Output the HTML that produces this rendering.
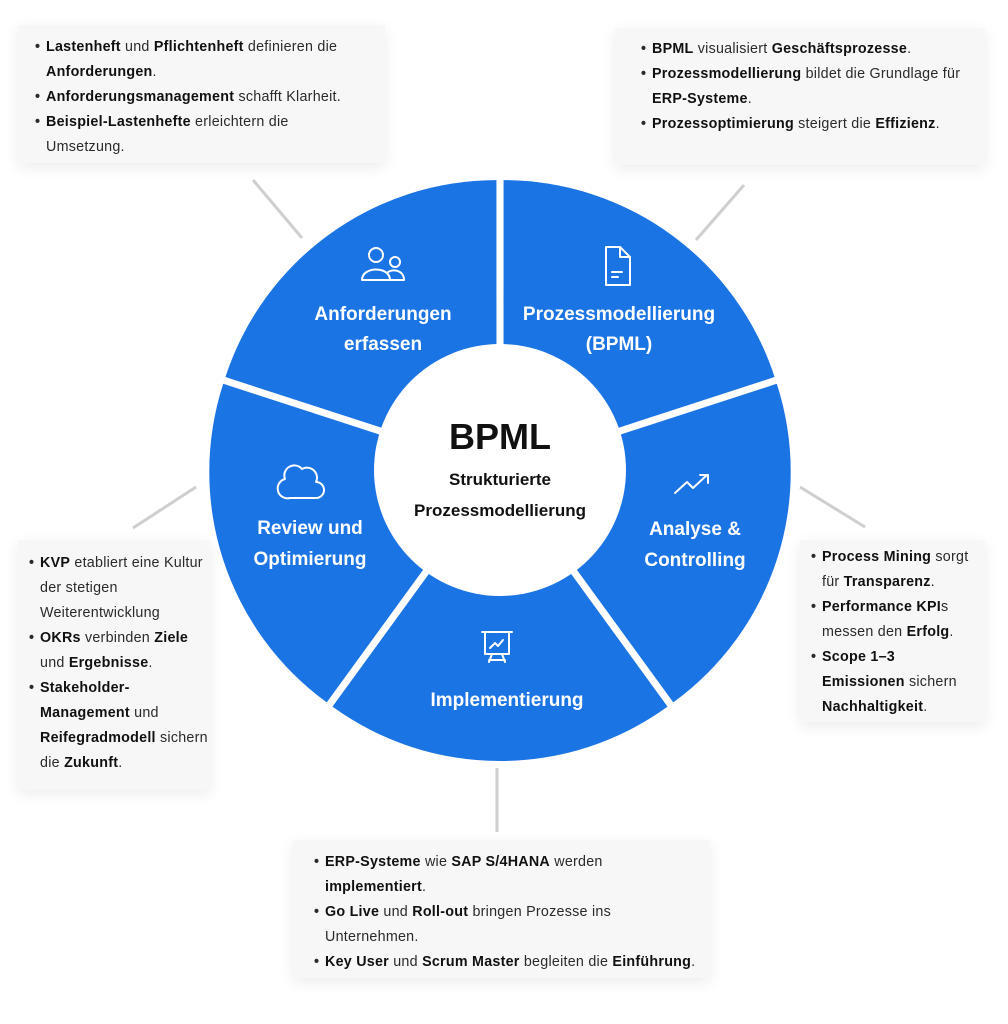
<!DOCTYPE html>
<html><head><meta charset="utf-8"><style>
body{margin:0;background:#fff;width:1008px;height:1024px;position:relative;overflow:hidden;font-family:"Liberation Sans",sans-serif;}
.box{position:absolute;background:#f7f7f7;box-shadow:0 4px 14px rgba(0,0,0,0.08);font-size:14.3px;letter-spacing:0.25px;color:#2a2a2a;line-height:25px;box-sizing:border-box;white-space:nowrap;}
.box ul{margin:0;padding:0;list-style:none;}
.box li{position:relative;padding-left:11px;}
.box li:before{content:"•";position:absolute;left:0;top:0;font-weight:bold;}
b{color:#111;}
svg{position:absolute;left:0;top:0;}
</style></head><body>
<svg width="1008" height="1024" viewBox="0 0 1008 1024">
<g stroke="#cfcfcf" stroke-width="3">
<line x1="253" y1="180" x2="302" y2="238"/>
<line x1="744" y1="185" x2="696" y2="240"/>
<line x1="196" y1="487" x2="133" y2="528"/>
<line x1="800" y1="487" x2="865" y2="527"/>
<line x1="497" y1="768" x2="497" y2="832"/>
</g>
<defs><path id="seg" d="M0,0 L-167.5,-230.6 A285,285 0 0 1 167.5,-230.6 Z" fill="#1b74e4"/></defs>
<g transform="translate(500,470)">
<g transform="rotate(-36) translate(0,-6)"><use href="#seg"/></g>
<g transform="rotate(36) translate(0,-6)"><use href="#seg"/></g>
<g transform="rotate(108) translate(0,-6)"><use href="#seg"/></g>
<g transform="rotate(180) translate(0,-6)"><use href="#seg"/></g>
<g transform="rotate(252) translate(0,-6)"><use href="#seg"/></g>
<circle cx="0" cy="0" r="126" fill="#fff"/>
</g>
<g fill="none" stroke="#fff" stroke-width="2" stroke-linecap="round" stroke-linejoin="round">
<circle cx="376" cy="255" r="7"/><circle cx="395" cy="262" r="5"/>
<path d="M362,280 c0,-14 28,-14 28,0 z"/><path d="M390,280 h14 c0,-10 -12,-12 -17,-7"/>
<path d="M606,247 h14 l10,10 v28 h-24 z"/><path d="M620,247 v10 h10"/><path d="M612,272 h10 M612,277 h6"/>
<path d="M675,493 l12,-11 6,6 14,-13"/><path d="M700,475 h8 v8"/>
<path d="M482,632 h30 M485,632 v22 h24 v-22 M492,654 l-3,8 M502,654 l3,8 M489,660 h16"/><path d="M490,648 l5,-5 3,3 5,-6"/>
<path d="M290,498 h26 a8,8 0 0 0 0,-16 a10,10 0 0 0 -14,-13 a10,10 0 0 0 -17,10 a9,9 0 0 0 5,19 z"/>
</g>
<g fill="#fff" font-family="Liberation Sans, sans-serif" font-weight="bold" font-size="19" text-anchor="middle">
<text x="383" y="320">Anforderungen</text><text x="383" y="350">erfassen</text>
<text x="619" y="320">Prozessmodellierung</text><text x="619" y="350">(BPML)</text>
<text x="695" y="535">Analyse &amp;</text><text x="695" y="566">Controlling</text>
<text x="507" y="706">Implementierung</text>
<text x="310" y="534">Review und</text><text x="310" y="565">Optimierung</text>
</g>
<g fill="#111" font-family="Liberation Sans, sans-serif" font-weight="bold" text-anchor="middle">
<text x="500" y="449" font-size="36">BPML</text>
<text x="500" y="485" font-size="17">Strukturierte</text>
<text x="500" y="516" font-size="17">Prozessmodellierung</text>
</g>
</svg>
<div class="box" style="left:18px;top:25px;width:367px;height:138px;padding:10px 0 0 17px;"><ul>
<li><b>Lastenheft</b> und <b>Pflichtenheft</b> definieren die<br><b>Anforderungen</b>.</li>
<li><b>Anforderungsmanagement</b> schafft Klarheit.</li>
<li><b>Beispiel-Lastenhefte</b> erleichtern die<br>Umsetzung.</li></ul></div>
<div class="box" style="left:615px;top:28px;width:370px;height:137px;padding:9px 0 0 26px;"><ul>
<li><b>BPML</b> visualisiert <b>Geschäftsprozesse</b>.</li>
<li><b>Prozessmodellierung</b> bildet die Grundlage für<br><b>ERP-Systeme</b>.</li>
<li><b>Prozessoptimierung</b> steigert die <b>Effizienz</b>.</li></ul></div>
<div class="box" style="left:18px;top:540px;width:192px;height:250px;padding:11px 0 0 11px;"><ul>
<li><b>KVP</b> etabliert eine Kultur<br>der stetigen<br>Weiterentwicklung</li>
<li><b>OKRs</b> verbinden <b>Ziele</b><br>und <b>Ergebnisse</b>.</li>
<li><b>Stakeholder-</b><br><b>Management</b> und<br><b>Reifegradmodell</b> sichern<br>die <b>Zukunft</b>.</li></ul></div>
<div class="box" style="left:800px;top:540px;width:185px;height:182px;padding:5px 0 0 11px;"><ul>
<li><b>Process Mining</b> sorgt<br>für <b>Transparenz</b>.</li>
<li><b>Performance KPI</b>s<br>messen den <b>Erfolg</b>.</li>
<li><b>Scope 1–3</b><br><b>Emissionen</b> sichern<br><b>Nachhaltigkeit</b>.</li></ul></div>
<div class="box" style="left:293px;top:840px;width:417px;height:138px;padding:10px 0 0 21px;"><ul>
<li><b>ERP-Systeme</b> wie <b>SAP S/4HANA</b> werden<br><b>implementiert</b>.</li>
<li><b>Go Live</b> und <b>Roll-out</b> bringen Prozesse ins<br>Unternehmen.</li>
<li><b>Key User</b> und <b>Scrum Master</b> begleiten die <b>Einführung</b>.</li></ul></div>
</body></html>
